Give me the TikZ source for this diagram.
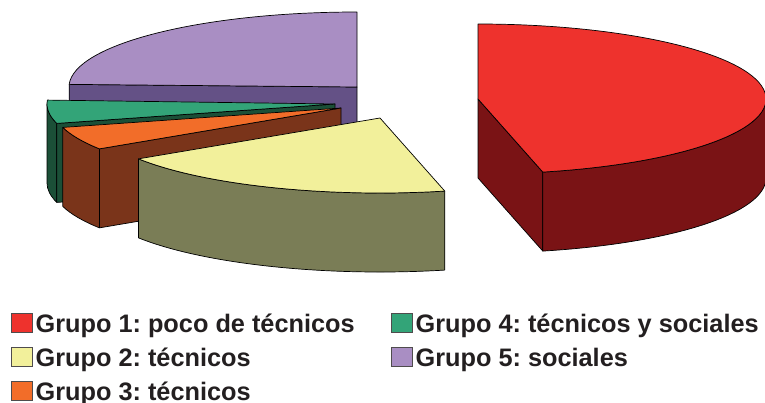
\documentclass[tikz,border=0pt]{standalone}
\usepackage{fontspec}
\setmainfont{Liberation Sans}
\usepackage{xcolor}
\usetikzlibrary{positioning}

\definecolor{rojoT}{HTML}{EE322D}
\definecolor{rojoD}{HTML}{7A1315}
\definecolor{amariT}{HTML}{F2F09B}
\definecolor{amariD}{HTML}{7A7D56}
\definecolor{naranT}{HTML}{F26D29}
\definecolor{naranD}{HTML}{7A341A}
\definecolor{verdeT}{HTML}{33A478}
\definecolor{verdeD}{HTML}{1B4F37}
\definecolor{moradoT}{HTML}{A98EC3}
\definecolor{moradoD}{HTML}{645186}
\definecolor{tinta}{HTML}{231F20}

\frenchspacing

\begin{document}
\begin{tikzpicture}[x=1pt,y=1pt,x radius=288,y radius=75]
\tikzset{slice/.style={draw=black,line width=0.7pt,line join=round}}
\tikzset{key/.style={draw=tinta!80,line width=0.8pt,minimum width=21pt,minimum height=19pt,inner sep=0pt}}
\tikzset{lab/.style={inner sep=0pt,text=tinta,font=\fontsize{25.3}{30}\selectfont\bfseries}}

\useasboundingbox (0,0) rectangle (765,-402);

% Grupo 5
\filldraw[slice,fill=moradoD] (357,-87) -- ++(178:288 and 75) -- ++(0,-79) -- (357,-166) -- cycle;
\filldraw[slice,fill=moradoT] (357,-87) -- ++(90:288 and 75) arc[start angle=90,end angle=178] -- cycle;

% Grupo 4
\filldraw[slice,fill=verdeD] (335,-104) ++(180:288 and 75) arc[start angle=180,end angle=195] -- ++(0,-79) arc[start angle=195,end angle=180] -- cycle;
\filldraw[slice,fill=verdeD] (335,-104) -- ++(195:288 and 75) -- ++(0,-79) -- (335,-183) -- cycle;
\filldraw[slice,fill=verdeT] (335,-104) -- ++(177:288 and 75) arc[start angle=177,end angle=195] -- cycle;

% Grupo 3
\filldraw[slice,fill=naranD] (341,-108) ++(195:288 and 75) arc[start angle=195,end angle=213] -- ++(0,-79) arc[start angle=213,end angle=195] -- cycle;
\filldraw[slice,fill=naranD] (341,-108) -- ++(213:288 and 75) -- ++(0,-79) -- (341,-187) -- cycle;
\filldraw[slice,fill=naranT] (341,-108) -- ++(195:288 and 75) arc[start angle=195,end angle=213] -- cycle;

% Grupo 2
\filldraw[slice,fill=amariD] (380,-118) ++(213:288 and 75) arc[start angle=213,end angle=283] -- ++(0,-79) arc[start angle=283,end angle=213] -- cycle;
\filldraw[slice,fill=amariT] (380,-118) -- ++(213:288 and 75) arc[start angle=213,end angle=283] -- cycle;

% Grupo 1
\filldraw[slice,fill=rojoD] (478,-99) -- ++(-77:288 and 75) -- ++(0,-79) -- (478,-178) -- cycle;
\filldraw[slice,fill=rojoD] (478,-99) ++(-77:288 and 75) arc[start angle=-77,end angle=0] -- ++(0,-79) arc[start angle=0,end angle=-77] -- cycle;
\filldraw[slice,fill=rojoT] (478,-99) -- ++(-77:288 and 75) arc[start angle=-77,end angle=90] -- cycle;

% leyenda
\node[key,fill=rojoT] (k1) at (21.5,-322.5) {};
\node[lab,right=3pt of k1.south east,anchor=base west] (t1) {Grupo 1: poco de técnicos};
\node[key,fill=amariT] (k2) at (21.5,-357) {};
\node[lab,right=3pt of k2.south east,anchor=base west] (t2) {Grupo 2: técnicos};
\node[key,fill=naranT] (k3) at (21.5,-390.5) {};
\node[lab,right=3pt of k3.south east,anchor=base west] (t3) {Grupo 3: técnicos};
\node[key,fill=verdeT] (k4) at (401.5,-322.5) {};
\node[lab,right=3pt of k4.south east,anchor=base west] (t4) {Grupo 4: técnicos y sociales};
\node[key,fill=moradoT] (k5) at (401.5,-357) {};
\node[lab,right=3pt of k5.south east,anchor=base west] (t5) {Grupo 5: sociales};

\end{tikzpicture}
\end{document}
